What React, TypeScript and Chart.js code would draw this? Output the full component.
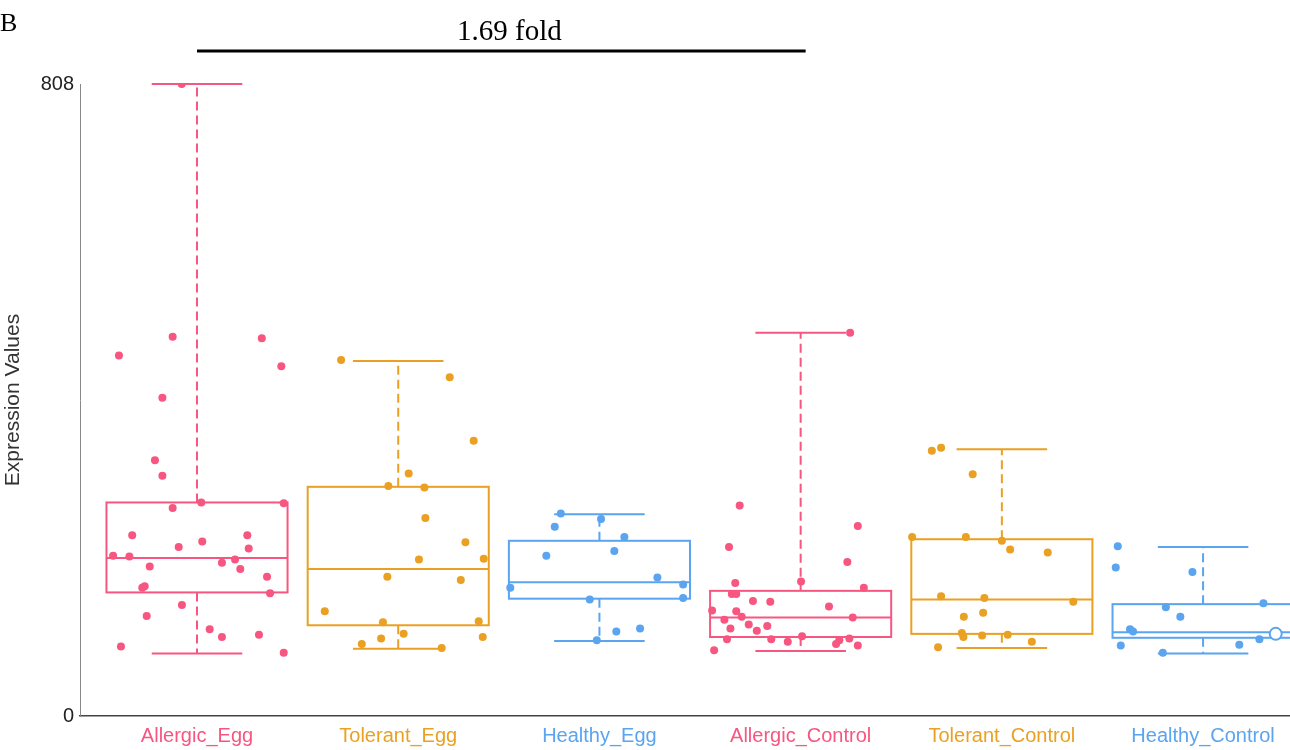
import React, { useEffect, useRef } from "react";
import { Chart, registerables } from "chart.js";

Chart.register(...registerables);

const categories = ["Allergic_Egg", "Tolerant_Egg", "Healthy_Egg", "Allergic_Control", "Tolerant_Control", "Healthy_Control"];
const groupColors = ["rgb(247,86,128)", "rgb(234,160,34)", "rgb(90,164,240)", "rgb(247,86,128)", "rgb(234,160,34)", "rgb(90,164,240)"];

// box summaries
const whiskerLow = [80, 86, 96, 83, 87, 80];
const q1 = [158, 116, 150, 101, 105, 100];
const median = [202, 188, 171, 126, 149, 107];
const q3 = [273, 293, 224, 160, 226, 143];
const whiskerHigh = [808, 454, 258, 490, 341, 216];

// individual samples (value, horizontal jitter)
const allergicEggValues = [808, 461, 485, 483, 447, 407, 327, 307, 273, 272, 266, 231, 231, 223, 216, 214, 205, 204, 200, 196, 188, 191, 178, 166, 164, 157, 142, 128, 111, 101, 104, 89, 81];
const allergicEggJitter = [-0.076, -0.388, -0.121, 0.322, 0.419, -0.172, -0.209, -0.172, 0.021, 0.431, -0.121, -0.322, 0.25, 0.026, -0.091, 0.257, -0.417, -0.336, 0.189, 0.124, 0.215, -0.235, 0.348, -0.26, -0.272, 0.363, -0.075, -0.25, 0.063, 0.124, 0.308, -0.378, 0.431];

const tolerantEggValues = [455, 433, 352, 310, 294, 292, 253, 222, 200, 201, 178, 174, 134, 120, 121, 105, 99, 92, 101, 87];
const tolerantEggJitter = [-0.284, 0.256, 0.375, 0.052, -0.049, 0.13, 0.135, 0.334, 0.103, 0.425, -0.054, 0.311, -0.365, -0.076, 0.4, 0.027, -0.085, -0.181, 0.42, 0.216];

const healthyEggValues = [259, 252, 242, 229, 205, 211, 177, 164, 168, 149, 151, 108, 112, 97];
const healthyEggJitter = [-0.192, 0.008, -0.222, 0.124, -0.264, 0.074, 0.288, -0.443, 0.416, -0.048, 0.416, 0.084, 0.202, -0.013];

const allergicControlValues = [490, 269, 243, 216, 197, 170, 172, 164, 156, 156, 147, 146, 140, 135, 134, 127, 126, 123, 117, 115, 112, 109, 98, 98, 95, 102, 97, 92, 99, 90, 84];
const allergicControlJitter = [0.246, -0.303, 0.284, -0.356, 0.232, -0.325, 0.002, 0.314, -0.342, -0.32, -0.237, -0.151, 0.141, -0.44, -0.32, -0.293, 0.259, -0.379, -0.258, -0.166, -0.349, -0.218, -0.366, -0.146, -0.064, 0.007, 0.192, 0.176, 0.242, 0.284, -0.43];

const tolerantControlValues = [339, 343, 309, 229, 229, 224, 213, 209, 153, 151, 146, 127, 132, 106, 101, 103, 104, 95, 88];
const tolerantControlJitter = [-0.348, -0.302, -0.145, -0.446, -0.179, 0.0, 0.041, 0.228, -0.302, -0.087, 0.355, -0.189, -0.093, -0.199, -0.191, -0.098, 0.029, 0.149, -0.317];

const healthyControlValues = [217, 190, 184, 139, 144, 127, 111, 108, 98, 90, 91, 81];
const healthyControlJitter = [-0.424, -0.434, -0.053, -0.185, 0.3, -0.113, -0.363, -0.348, 0.28, -0.409, 0.18, -0.2];

const highlightedValue = [105];
const highlightedJitter = [0.361];

const groupValues = [allergicEggValues, tolerantEggValues, healthyEggValues, allergicControlValues, tolerantControlValues, healthyControlValues];
const groupJitter = [allergicEggJitter, tolerantEggJitter, healthyEggJitter, allergicControlJitter, tolerantControlJitter, healthyControlJitter];

const foldLabel = "1.69 fold";
const foldFrom = 0;
const foldTo = 3;
const panelLabel = "B";

const yTicks = [0, 808];

const boxPlugin = {
  id: "boxes",
  beforeDatasetsDraw(chart: any) {
    const { ctx, chartArea, scales } = chart;
    const x = scales.x;
    const y = scales.y;
    ctx.save();
    ctx.beginPath();
    ctx.rect(chartArea.left, chartArea.top - 4, chartArea.right - chartArea.left, chartArea.bottom - chartArea.top + 4);
    ctx.clip();
    categories.forEach((_, i) => {
      const c = groupColors[i];
      const xl = x.getPixelForValue(i - 0.45);
      const xr = x.getPixelForValue(i + 0.45);
      const xc = x.getPixelForValue(i);
      const cl = x.getPixelForValue(i - 0.225);
      const cr = x.getPixelForValue(i + 0.225);
      const yLo = y.getPixelForValue(whiskerLow[i]);
      const yQ1 = y.getPixelForValue(q1[i]);
      const yMed = y.getPixelForValue(median[i]);
      const yQ3 = y.getPixelForValue(q3[i]);
      const yHi = y.getPixelForValue(whiskerHigh[i]);
      ctx.strokeStyle = c;
      ctx.lineWidth = 2;
      // dashed whiskers
      ctx.setLineDash([9, 5]);
      ctx.beginPath();
      ctx.moveTo(xc, yQ3);
      ctx.lineTo(xc, yHi);
      ctx.moveTo(xc, yQ1);
      ctx.lineTo(xc, yLo);
      ctx.stroke();
      ctx.setLineDash([]);
      // caps
      ctx.beginPath();
      ctx.moveTo(cl, yHi);
      ctx.lineTo(cr, yHi);
      ctx.moveTo(cl, yLo);
      ctx.lineTo(cr, yLo);
      ctx.stroke();
      // box
      ctx.fillStyle = "#ffffff";
      ctx.fillRect(xl, yQ3, xr - xl, yQ1 - yQ3);
      ctx.strokeRect(xl, yQ3, xr - xl, yQ1 - yQ3);
      ctx.beginPath();
      ctx.moveTo(xl, yMed);
      ctx.lineTo(xr, yMed);
      ctx.stroke();
    });
    ctx.restore();
  },
  afterDraw(chart: any) {
    const { ctx, scales } = chart;
    const x = scales.x;
    ctx.save();
    ctx.fillStyle = "#000";
    ctx.font = "26px 'Liberation Serif', 'Times New Roman', serif";
    ctx.textBaseline = "alphabetic";
    ctx.textAlign = "left";
    ctx.fillText(panelLabel, 0, 31);
    const x0 = x.getPixelForValue(foldFrom);
    const x1 = x.getPixelForValue(foldTo) + 5;
    ctx.font = "29px 'Liberation Serif', 'Times New Roman', serif";
    ctx.textAlign = "center";
    ctx.fillText(foldLabel, (x0 + x1) / 2 + 8, 40);
    ctx.strokeStyle = "#000";
    ctx.lineWidth = 3;
    ctx.beginPath();
    ctx.moveTo(x0, 51);
    ctx.lineTo(x1, 51);
    ctx.stroke();
    ctx.restore();
  },
};

export default function App() {
  const ref = useRef<HTMLCanvasElement>(null);
  useEffect(() => {
    if (!ref.current) return;
    const datasets: any[] = groupValues.map((vals, i) => ({
      label: categories[i],
      data: vals.map((v, k) => ({ x: i + groupJitter[i][k], y: v })),
      backgroundColor: groupColors[i],
      borderColor: groupColors[i],
      pointRadius: 4,
      borderWidth: 0,
    }));
    datasets.push({
      label: "selected",
      data: highlightedValue.map((v, k) => ({ x: 5 + highlightedJitter[k], y: v })),
      backgroundColor: "#ffffff",
      borderColor: groupColors[5],
      pointRadius: 6,
      borderWidth: 2,
    });
    const chart = new Chart(ref.current, {
      type: "scatter",
      data: { datasets },
      plugins: [boxPlugin],
      options: {
        animation: false,
        responsive: false,
        layout: { autoPadding: false, padding: { top: 84, left: 0, right: 0, bottom: 0 } },
        plugins: { legend: { display: false }, tooltip: { enabled: false } },
        scales: {
          x: {
            type: "linear",
            min: -0.5815,
            max: 5.432,
            grid: { display: false, drawTicks: false },
            border: { display: true, color: "#444", width: 1.5 },
            afterBuildTicks: (scale: any) => {
              scale.ticks = categories.map((_, i) => ({ value: i }));
            },
            afterFit: (scale: any) => {
              scale.height = 34;
              scale.paddingLeft = 0;
              scale.paddingRight = 0;
            },
            ticks: {
              autoSkip: false,
              maxRotation: 0,
              padding: 8,
              font: { family: "'Liberation Sans', Arial, sans-serif", size: 20 },
              color: (ctx: any) => groupColors[ctx.index] || "#333",
              callback: (v: any) => categories[Math.round(Number(v))] ?? "",
            },
          },
          y: {
            type: "linear",
            min: 0,
            max: 808,
            grid: { display: false, drawTicks: false },
            border: { display: true, color: "#888", width: 1 },
            afterBuildTicks: (scale: any) => {
              scale.ticks = yTicks.map((v) => ({ value: v }));
            },
            afterFit: (scale: any) => {
              scale.width = 80;
              scale.paddingTop = 0;
              scale.paddingBottom = 0;
            },
            ticks: {
              padding: 6,
              color: "#222",
              font: { family: "'Liberation Sans', Arial, sans-serif", size: 20 },
              callback: (v: any) => String(v),
            },
            title: {
              display: true,
              text: "Expression Values",
              color: "#333",
              padding: { top: 1, bottom: 0 },
              font: { family: "'Liberation Sans', Arial, sans-serif", size: 21 },
            },
          },
        },
      },
    });
    return () => chart.destroy();
  }, []);
  return (
    <div style={{ position: "absolute", left: 0, top: 0, width: 1290, height: 750, background: "#fff" }}>
      <canvas ref={ref} width={1290} height={750} style={{ display: "block" }} />
    </div>
  );
}
